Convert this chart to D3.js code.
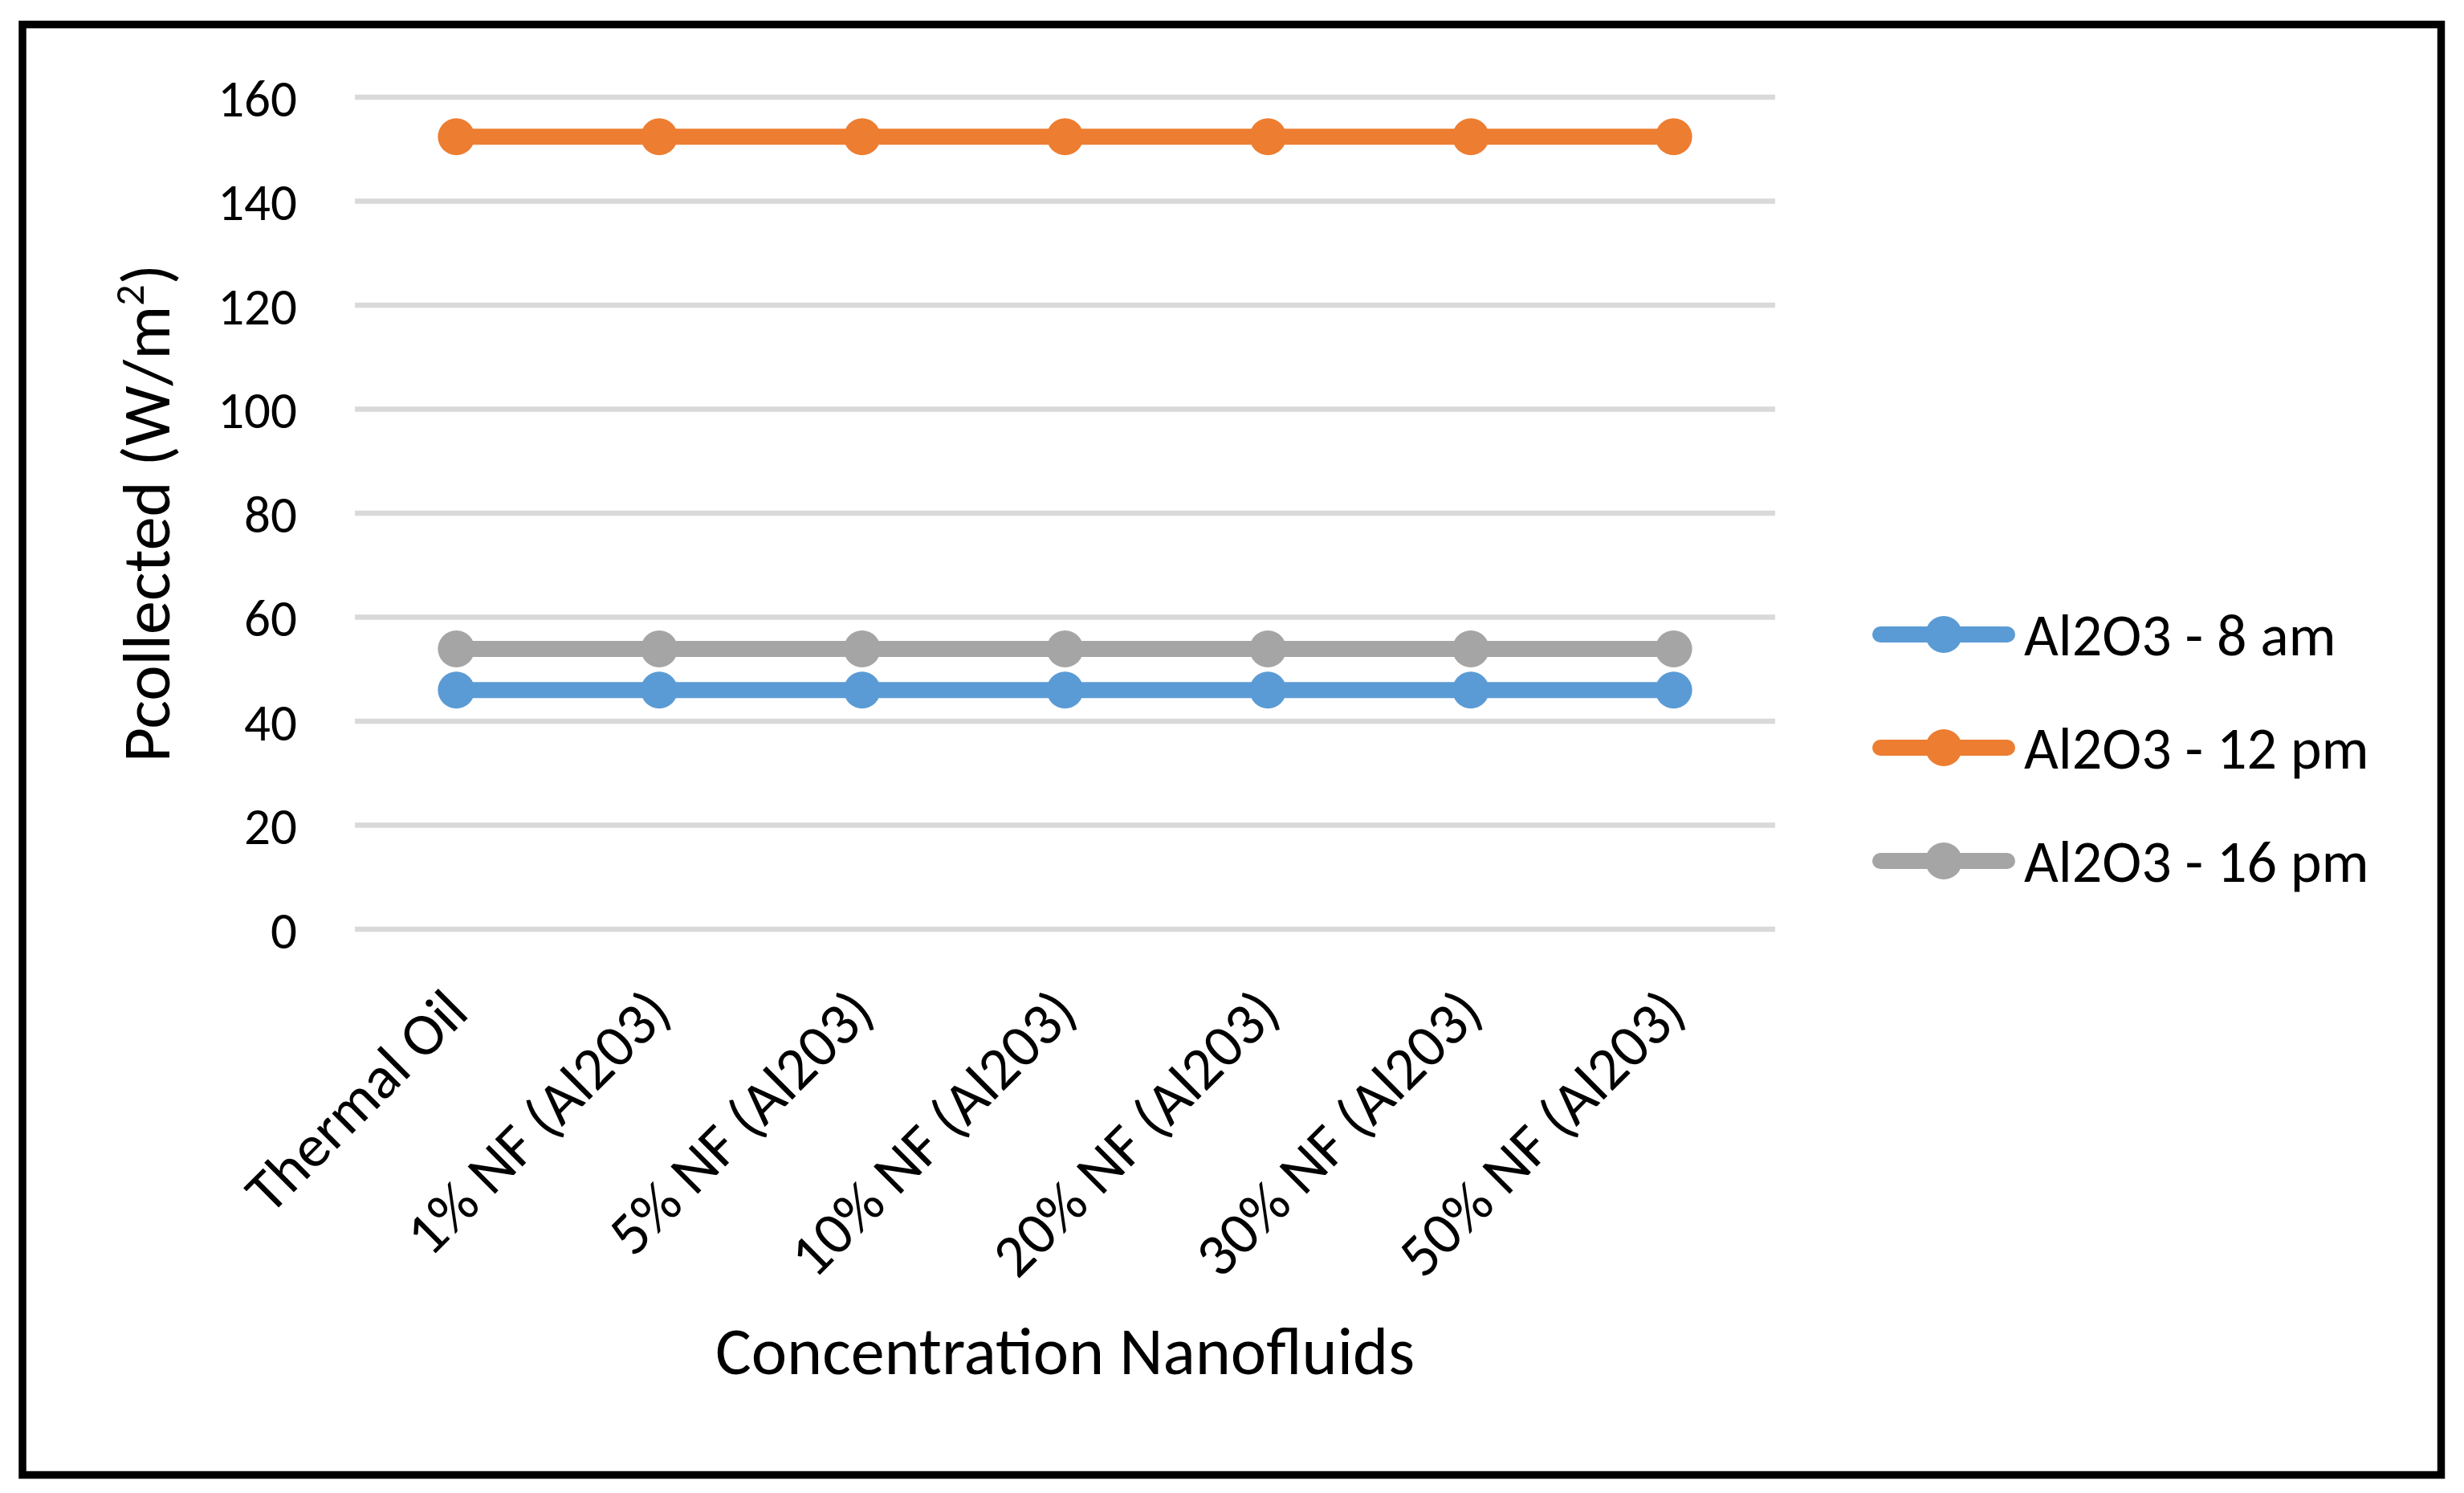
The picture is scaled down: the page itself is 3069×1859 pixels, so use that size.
<!DOCTYPE html>
<html>
<head>
<meta charset="utf-8">
<script src="https://cdn.jsdelivr.net/npm/d3@7"></script>
<style>
  html, body { margin: 0; padding: 0; background: #fff; }
  svg { display: block; }
  text { font-family: Carlito, Lato, "Open Sans", sans-serif; fill: #000; }
</style>
</head>
<body>
<svg id="chart" width="3069" height="1859"></svg>
<script>
const categories = ["Thermal Oil", "1% NF (Al203)", "5% NF (Al203)", "10% NF (Al203)", "20% NF (Al203)", "30% NF (Al203)", "50% NF (Al203)"];
const seriesNames = ["Al2O3 - 8 am", "Al2O3 - 12 pm", "Al2O3 - 16 pm"];
const seriesColors = ["#5B9BD5", "#ED7D31", "#A5A5A5"];
const am8 = [46, 46, 46, 46, 46, 46, 46];
const pm12 = [152.4, 152.4, 152.4, 152.4, 152.4, 152.4, 152.4];
const pm16 = [53.9, 53.9, 53.9, 53.9, 53.9, 53.9, 53.9];
const yTicks = [0, 20, 40, 60, 80, 100, 120, 140, 160];
const yTitle = "Pcollected (W/m";
const xTitle = "Concentration Nanofluids";

const seriesValues = [am8, pm12, pm16];
const svg = d3.select("#chart");
const FS_TICK = 65, FS_XLAB = 75, FS_LEG = 74, FS_TITLE = 84;

// outer border
svg.append("rect").attr("x", 28).attr("y", 30.5).attr("width", 3012.5).attr("height", 1806)
  .attr("fill", "none").attr("stroke", "#000").attr("stroke-width", 9.5);

const plot = { left: 442, right: 2211, top: 121, bottom: 1157 };
const x = d3.scalePoint().domain(categories).range([plot.left, plot.right]).padding(0.5);
const y = d3.scaleLinear().domain([0, 160]).range([plot.bottom, plot.top]);

// gridlines
svg.append("g").selectAll("line").data(yTicks).join("line")
  .attr("x1", plot.left).attr("x2", plot.right)
  .attr("y1", d => y(d)).attr("y2", d => y(d))
  .attr("stroke", "#D9D9D9").attr("stroke-width", 6.5);

// y axis labels via d3 axis
const yAxis = d3.axisLeft(y).tickValues(yTicks).tickSize(0).tickPadding(0);
const gy = svg.append("g").attr("transform", `translate(370,0)`).call(yAxis);
gy.select(".domain").remove();
gy.selectAll("text").attr("font-size", FS_TICK).attr("font-family", null).attr("dy", "0.36em");

// x axis labels rotated
const xAxis = d3.axisBottom(x).tickSize(0).tickPadding(0);
const gx = svg.append("g").call(xAxis);
gx.select(".domain").remove();
gx.selectAll(".tick").attr("transform", d => `translate(${x(d) + 18},1264)`);
gx.selectAll("text").attr("font-size", FS_XLAB).attr("font-family", null)
  .attr("y", 0).attr("dy", 0).attr("text-anchor", "end").attr("transform", "rotate(-45)");

// axis titles
svg.append("text").attr("x", (plot.left + plot.right) / 2).attr("y", 1711)
  .attr("text-anchor", "middle").attr("font-size", FS_TITLE).text(xTitle);

const yt = svg.append("text").attr("transform", `translate(211,${(plot.top + plot.bottom) / 2}) rotate(-90)`)
  .attr("text-anchor", "middle").attr("font-size", FS_TITLE);
yt.append("tspan").text(yTitle);
yt.append("tspan").attr("font-size", FS_TITLE * 0.62).attr("dy", -32).text("2");
yt.append("tspan").attr("dy", 32).text(")");

// series
const line = d3.line().x((d, i) => x(categories[i])).y(d => y(d));
seriesValues.forEach((vals, s) => {
  const g = svg.append("g");
  g.append("path").attr("d", line(vals)).attr("fill", "none")
    .attr("stroke", seriesColors[s]).attr("stroke-width", 20);
  g.selectAll("circle").data(vals).join("circle")
    .attr("cx", (d, i) => x(categories[i])).attr("cy", d => y(d)).attr("r", 23)
    .attr("fill", seriesColors[s]);
});

// legend
const legendY = d3.scalePoint().domain(seriesNames).range([790, 1072]);
const lg = svg.append("g");
seriesNames.forEach((name, s) => {
  const cy = legendY(name);
  lg.append("line").attr("x1", 2342).attr("x2", 2500).attr("y1", cy).attr("y2", cy)
    .attr("stroke", seriesColors[s]).attr("stroke-width", 20).attr("stroke-linecap", "round");
  lg.append("circle").attr("cx", 2421).attr("cy", cy).attr("r", 23).attr("fill", seriesColors[s]);
  lg.append("text").attr("x", 2521).attr("y", cy + 26).attr("font-size", FS_LEG).text(name);
});
</script>
</body>
</html>
